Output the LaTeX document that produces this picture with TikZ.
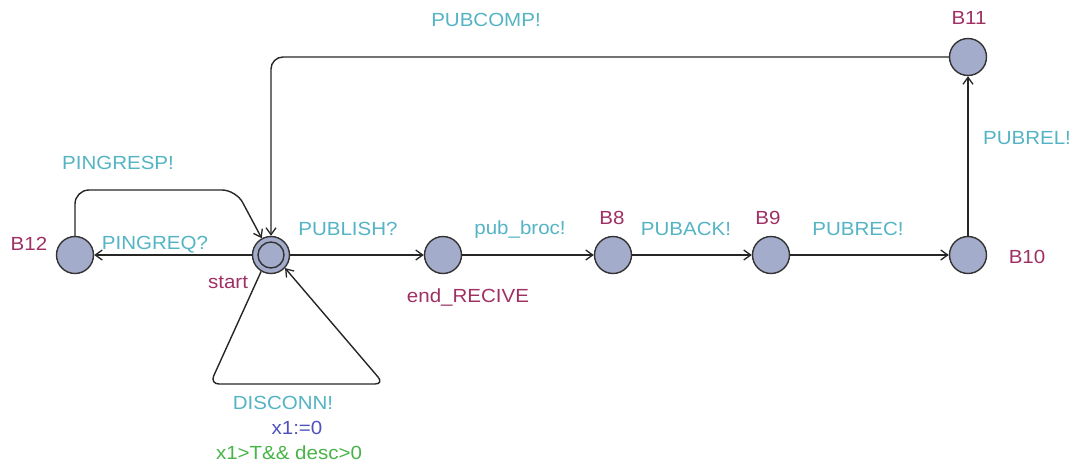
\documentclass[tikz,border=0pt]{standalone}
\usepackage{fontspec}
\setmainfont{Liberation Sans}[FakeStretch=1.08]
\usetikzlibrary{arrows.meta}
\definecolor{locfill}{RGB}{164,172,204}
\definecolor{locname}{RGB}{160,48,100}
\definecolor{synccol}{RGB}{84,180,196}
\definecolor{updcol}{RGB}{80,80,190}
\definecolor{guardcol}{RGB}{70,180,70}
\begin{document}
\begin{tikzpicture}[x=1pt,y=-1pt,
  loc/.style={circle,draw=black!80,line width=1.4pt,fill=locfill,minimum size=37pt,inner sep=0pt},
  initring/.style={circle,draw=black!80,line width=1.4pt,minimum size=26pt,inner sep=0pt},
  edge/.style={draw=black!85,line width=1.4pt,-{Straight Barb[length=7pt,width=10pt,line width=1.3pt]}},
  txt/.style={inner sep=0pt,font=\fontsize{19}{21}\selectfont},
  lname/.style={txt,text=locname},
  lsync/.style={txt,text=synccol},
  lupd/.style={txt,text=updcol},
  lguard/.style={txt,text=guardcol},
]
\useasboundingbox (0,0) rectangle (1078,469);

% locations
\node[loc] (start) at (271,255) {};
\node[initring] (startring) at (start) {};
\node[loc] (b12) at (75,255) {};
\node[loc] (endr) at (443,255) {};
\node[loc] (b8) at (613,255) {};
\node[loc] (b9) at (771,255) {};
\node[loc] (b10) at (968,255) {};
\node[loc] (b11) at (968,57) {};

% location names
\node[lname] (nb12) at (29,244) {B12};
\node[lname] (nstart) at (228,282) {start};
\node[lname] (nendr) at (468,297) {end\_RECIVE};
\node[lname] (nb8) at (612,218) {B8};
\node[lname] (nb9) at (768,218) {B9};
\node[lname] (nb10) at (1027,257) {B10};
\node[lname] (nb11) at (969,18) {B11};

% transitions
\draw[edge] (start) -- (b12);
\draw[edge,rounded corners=14pt] (b12.north) |- (236,190) -- (start.119);
\draw[edge] (start) -- (endr);
\draw[edge] (endr) -- (b8);
\draw[edge] (b8) -- (b9);
\draw[edge] (b9) -- (b10);
\draw[edge] (b10) -- (b11);
\draw[edge,rounded corners=12pt] (b11.west) -| (start.north);
\draw[edge,rounded corners=9pt] (start.-121) -- (210,384) -- (384,384) -- (start.-43);

% synchronisations, updates, guards
\node[lsync] (spingreq) at (155,245) {PINGREQ?};
\node[lsync] (spingresp) at (118,163) {PINGRESP!};
\node[lsync] (spubcomp) at (486,20) {PUBCOMP!};
\node[lsync] (spublish) at (348,229) {PUBLISH?};
\node[lsync] (spubbroc) at (520,230) {pub\_broc!};
\node[lsync] (spuback) at (686,229) {PUBACK!};
\node[lsync] (spubrec) at (858,229) {PUBREC!};
\node[lsync] (spubrel) at (1027,138) {PUBREL!};
\node[lsync] (sdisc) at (283,403) {DISCONN!};
\node[lupd] (udisc) at (297,428) {x1:=0};
\node[lguard] (gdisc) at (289,453) {x1>T\&\& desc>0};
\end{tikzpicture}
\end{document}
